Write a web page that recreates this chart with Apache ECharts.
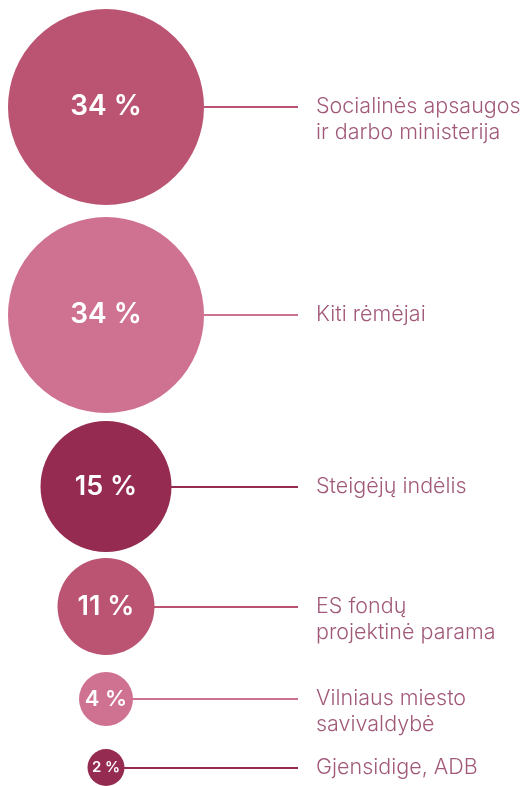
<!DOCTYPE html>
<html>
<head>
<meta charset="utf-8">
<script src="https://cdn.jsdelivr.net/npm/echarts@6/dist/echarts.min.js"></script>
<style>
html, body { margin: 0; padding: 0; background: #fff; }
#main { width: 530px; height: 786px; }
</style>
</head>
<body>
<div id="main"></div>
<script>
// data
var categories = [
    'Socialinės apsaugos\nir darbo ministerija',
    'Kiti rėmėjai',
    'Steigėjų indėlis',
    'ES fondų\nprojektinė parama',
    'Vilniaus miesto\nsavivaldybė',
    'Gjensidige, ADB'
];
var shares = [34, 34, 15, 11, 4, 2];

// look & layout
var colors = ['#bb5372', '#cf7190', '#952b50', '#bb5372', '#cf7190', '#952b50'];
var bubbleSize = [196, 196, 131, 97, 54, 37];
var gapBefore = [0, 12, 8, 6, 17, 23];
var pctFont = [28, 28, 27, 27, 22, 15];
var firstY = 107, bubbleX = 106, lineEndX = 298;
var textColor = '#8a3058';
var fontFamily = 'Inter, "Open Sans", sans-serif';

function buildChart()
{
    var chart = echarts.init(document.getElementById('main'));

    // stack bubbles from top to bottom
    var ys = [];
    var y = firstY;
    for (var i = 0; i < shares.length; i++) {
        if (i > 0) y += bubbleSize[i - 1] / 2 + gapBefore[i] + bubbleSize[i] / 2;
        ys.push(y);
    }

    var lineData = [], bubbleData = [], nameData = [];
    for (var i = 0; i < shares.length; i++) {
        // connector starts at the bubble's right edge
        lineData.push({
            coords: [[bubbleX + bubbleSize[i] / 2 - 2, ys[i]], [lineEndX, ys[i]]],
            lineStyle: { color: colors[i], width: 2, opacity: 1 }
        });
        bubbleData.push({
            value: [bubbleX, ys[i], shares[i]],
            symbolSize: bubbleSize[i],
            itemStyle: { color: colors[i], opacity: 1 },
            label: { fontSize: pctFont[i] }
        });
        nameData.push({ value: [lineEndX, ys[i]], name: categories[i] });
    }

    var option = {
        animation: false,
        grid: { left: 0, right: 0, top: 0, bottom: 0 },
        xAxis: { type: 'value', min: 0, max: 530, show: false },
        yAxis: { type: 'value', min: 0, max: 786, inverse: true, show: false },
        series: [
            {
                type: 'lines',
                coordinateSystem: 'cartesian2d',
                silent: true,
                data: lineData
            },
            {
                type: 'scatter',
                silent: true,
                label: {
                    show: true,
                    position: 'inside',
                    color: '#fff',
                    fontWeight: 600,
                    fontFamily: fontFamily,
                    formatter: function (p) { return p.data.value[2] + ' %'; }
                },
                data: bubbleData
            },
            {
                type: 'scatter',
                silent: true,
                symbolSize: 0,
                label: {
                    show: true,
                    position: 'right',
                    distance: 18,
                    verticalAlign: 'top',
                    offset: [0, -13],
                    lineHeight: 26,
                    fontSize: 21.5,
                    fontWeight: 300,
                    color: textColor,
                    fontFamily: fontFamily,
                    formatter: '{b}'
                },
                data: nameData
            }
        ]
    };

    chart.setOption(option);
}

buildChart();
</script>
</body>
</html>
